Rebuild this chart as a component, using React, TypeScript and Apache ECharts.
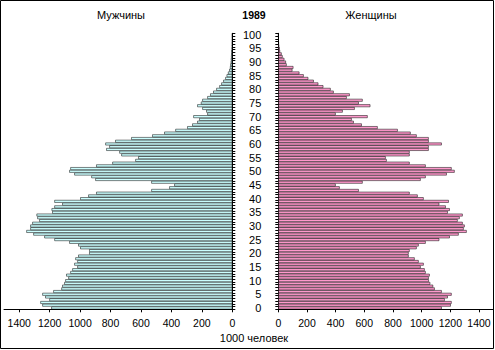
import React, { useEffect, useRef } from "react";
import * as echarts from "echarts";

// Age categories 0..100
const ages: string[] = Array.from({ length: 101 }, (_, i) => String(i));

// Population, thousands, by single year of age (index = age 0..100)
const male: number[] = [
  1189, 1248, 1261, 1202, 1229, 1248, 1176, 1123, 1117, 1104,
  1097, 1077, 1091, 1064, 1051, 1018, 1038, 1018, 1031, 1012,
  940, 940, 999, 1012, 1071, 1169, 1235, 1307, 1353, 1327,
  1327, 1314, 1268, 1281, 1286, 1183, 1187, 1169, 1117, 1169,
  999, 946, 894, 532, 414, 381, 532, 900, 926, 1038,
  1071, 1064, 894, 788, 637, 618, 729, 742, 828, 808,
  834, 769, 664, 526, 447, 374, 296, 263, 230, 217,
  256, 164, 171, 197, 230, 206, 197, 164, 145, 125,
  105, 85, 72, 59, 46, 37, 28, 20, 15, 13,
  10, 9, 8, 7, 6, 4, 3, 2, 1, 1,
  1,
];

const female: number[] = [
  1140, 1203, 1209, 1161, 1182, 1209, 1140, 1091, 1080, 1060,
  1050, 1049, 1056, 1028, 1021, 993, 1014, 979, 951, 909,
  909, 916, 965, 979, 1028, 1123, 1196, 1258, 1314, 1293,
  1300, 1286, 1251, 1265, 1286, 1182, 1196, 1168, 1123, 1189,
  1014, 972, 916, 561, 428, 400, 588, 993, 1028, 1175,
  1230, 1209, 1028, 916, 756, 749, 916, 916, 1049, 1049,
  1140, 1049, 1049, 965, 923, 833, 693, 582, 526, 512,
  623, 400, 449, 533, 642, 561, 588, 477, 498, 386,
  365, 314, 279, 247, 209, 177, 147, 98, 105, 58,
  53, 42, 30, 23, 12, 10, 6, 4, 3, 2,
  1,
];

const titleText = "1989";
const leftTitle = "Мужчины";
const rightTitle = "Женщины";
const unitText = "1000 человек";

const FONT = '"Liberation Sans", Arial, sans-serif';

export default function App() {
  const ref = useRef<HTMLDivElement>(null);

  useEffect(() => {
    if (!ref.current) return;
    const chart = echarts.init(ref.current, undefined, { renderer: "svg" });

    const valueAxisCommon = {
      type: "value",
      min: 0,
      max: 1500,
      interval: 200,
      axisLine: { show: true, onZero: false, lineStyle: { color: "#000", width: 1 } },
      axisTick: { show: true, length: 3, lineStyle: { color: "#000" } },
      axisLabel: {
        showMaxLabel: false,
        fontSize: 10.5,
        color: "#000",
        margin: 8,
        fontFamily: FONT,
        formatter: (v: number) => String(v),
      },
      splitLine: { show: false },
    };

    const catAxisCommon = {
      type: "category",
      data: ages,
      boundaryGap: true,
      axisLine: { show: true, onZero: false, lineStyle: { color: "#000", width: 1 } },
      axisTick: { show: true, interval: 0, length: 3, lineStyle: { color: "#000" } },
      splitLine: { show: false },
    };

    const option: any = {
      animation: false,
      backgroundColor: "#fff",
      textStyle: { fontFamily: FONT },
      grid: [
        { left: 4, top: 33.3, width: 228.3, height: 276 },
        { left: 278.3, top: 33.3, width: 215, height: 276 },
      ],
      xAxis: [
        { ...valueAxisCommon, gridIndex: 0, inverse: true },
        { ...valueAxisCommon, gridIndex: 1 },
      ],
      yAxis: [
        {
          ...catAxisCommon,
          gridIndex: 0,
          position: "right",
          axisLabel: { show: false },
        },
        {
          ...catAxisCommon,
          gridIndex: 1,
          position: "left",
          axisLabel: {
            show: true,
            interval: 4,
            fontSize: 11,
            color: "#000",
            margin: 17,
            fontFamily: FONT,
          },
        },
      ],
      series: [
        {
          type: "bar",
          xAxisIndex: 0,
          yAxisIndex: 0,
          data: male,
          barCategoryGap: "0%",
          itemStyle: { color: "#CCFFFF", borderColor: "#000", borderWidth: 0.5 },
        },
        {
          type: "bar",
          xAxisIndex: 1,
          yAxisIndex: 1,
          data: female,
          barCategoryGap: "0%",
          itemStyle: { color: "#FF99CC", borderColor: "#000", borderWidth: 0.5 },
        },
      ],
      graphic: [
        {
          type: "rect",
          shape: { x: 0.5, y: 0.5, width: 493, height: 348 },
          style: { fill: "none", stroke: "#000", lineWidth: 1 },
          silent: true,
        },
        {
          type: "text",
          x: 121,
          y: 15,
          style: {
            text: leftTitle,
            fontSize: 11,
            fontFamily: FONT,
            fill: "#000",
            align: "center",
            verticalAlign: "middle",
          },
        },
        {
          type: "text",
          x: 254,
          y: 14.5,
          style: {
            text: titleText,
            fontSize: 10.5,
            fontWeight: "bold",
            fontFamily: FONT,
            fill: "#000",
            align: "center",
            verticalAlign: "middle",
          },
        },
        {
          type: "text",
          x: 371,
          y: 15,
          style: {
            text: rightTitle,
            fontSize: 11,
            fontFamily: FONT,
            fill: "#000",
            align: "center",
            verticalAlign: "middle",
          },
        },
        {
          type: "text",
          x: 254,
          y: 338,
          style: {
            text: unitText,
            fontSize: 11,
            fontFamily: FONT,
            fill: "#000",
            align: "center",
            verticalAlign: "middle",
          },
        },
      ],
    };

    chart.setOption(option);
    return () => {
      chart.dispose();
    };
  }, []);

  return (
    <div
      ref={ref}
      style={{ position: "absolute", left: 0, top: 0, width: 495, height: 350 }}
    />
  );
}
